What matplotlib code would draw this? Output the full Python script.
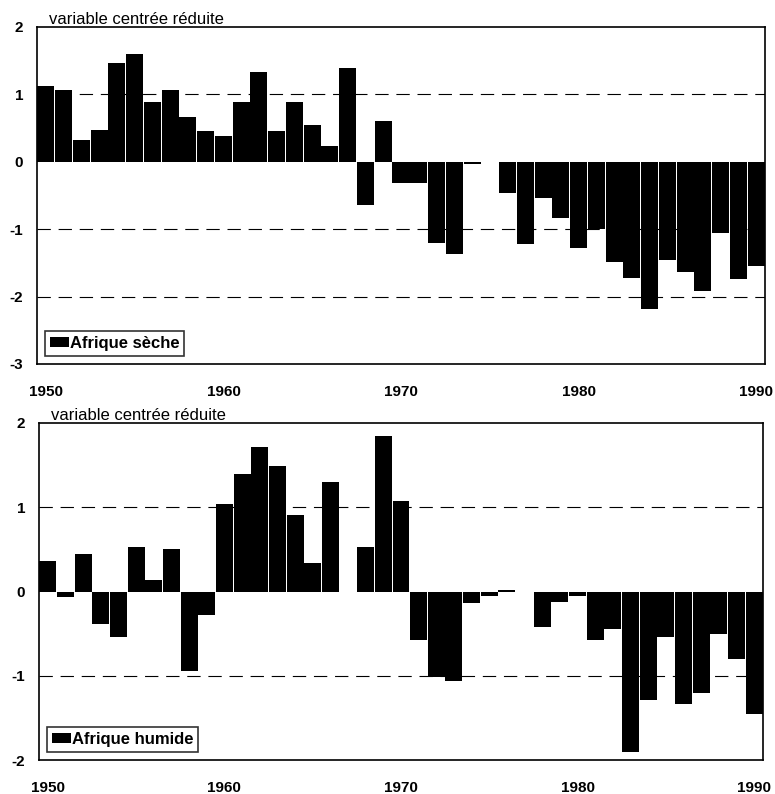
import matplotlib
matplotlib.use('Agg')
import matplotlib.pyplot as plt
import numpy as np

plt.rcParams['font.family'] = ['Liberation Sans', 'DejaVu Sans']
plt.rcParams['axes.unicode_minus'] = False

years = list(range(1950, 1991))

# Afrique sèche (variable centrée réduite)
seche = [1.13, 1.06, 0.33, 0.47, 1.46, 1.60, 0.89, 1.06, 0.67, 0.45,
         0.38, 0.88, 1.33, 0.45, 0.89, 0.54, 0.23, 1.39, -0.64, 0.60,
         -0.31, -0.31, -1.21, -1.37, -0.04, -0.01, -0.46, -1.22, -0.53, -0.83,
         -1.28, -0.99, -1.49, -1.72, -2.19, -1.46, -1.64, -1.92, -1.05, -1.74,
         -1.54]

# Afrique humide
humide = [0.36, -0.06, 0.44, -0.38, -0.54, 0.53, 0.14, 0.51, -0.94, -0.28,
          1.04, 1.40, 1.71, 1.49, 0.91, 0.34, 1.30, 0.0, 0.53, 1.85,
          1.07, -0.57, -1.02, -1.06, -0.14, -0.05, 0.02, -0.01, -0.42, -0.13,
          -0.05, -0.57, -0.44, -1.90, -1.29, -0.54, -1.34, -1.20, -0.51, -0.80,
          -1.45]

xticks = [1950, 1960, 1970, 1980, 1990]

W, H = 775, 794
fig = plt.figure(figsize=(W / 100, H / 100), dpi=100)

def px_axes(l, t, r, b):
    return fig.add_axes([l / W, 1 - b / H, (r - l) / W, (b - t) / H])

panels = [
    (px_axes(37, 27, 765, 364), seche, 'Afrique sèche', (-3, 2), [1, -1, -2]),
    (px_axes(39, 423, 763, 760), humide, 'Afrique humide', (-2, 2), [1, -1]),
]

for ax, vals, lab, ylim, grid in panels:
    ax.bar(years, vals, width=0.96, color='black', label=lab, zorder=3)
    for g in grid:
        ax.axhline(g, color='black', lw=0.8, ls=(0, (12, 7)), zorder=1)
    ax.set_xlim(1949.5, 1990.5)
    ax.set_ylim(*ylim)
    ax.set_yticks(range(ylim[0], ylim[1] + 1))
    ax.set_xticks(xticks)
    ax.tick_params(length=0, labelsize=11, pad=15, axis='x')
    ax.tick_params(length=0, labelsize=11, pad=10, axis='y')
    for t in ax.get_xticklabels() + ax.get_yticklabels():
        t.set_fontweight('bold')
    for s in ax.spines.values():
        s.set_linewidth(1.2)
    ax.text(0.017, 1.0, 'variable centrée réduite', transform=ax.transAxes,
            fontsize=12, ha='left', va='bottom')
    leg = ax.legend(loc='lower left', prop={'weight': 'bold', 'size': 12},
                    handlelength=1.1, handleheight=0.6, handletextpad=0.05,
                    borderpad=0.3, borderaxespad=0.5, frameon=True, fancybox=False)
    leg.get_frame().set_edgecolor('black')
    leg.get_frame().set_linewidth(1.2)

fig.savefig('out.png', dpi=100)
